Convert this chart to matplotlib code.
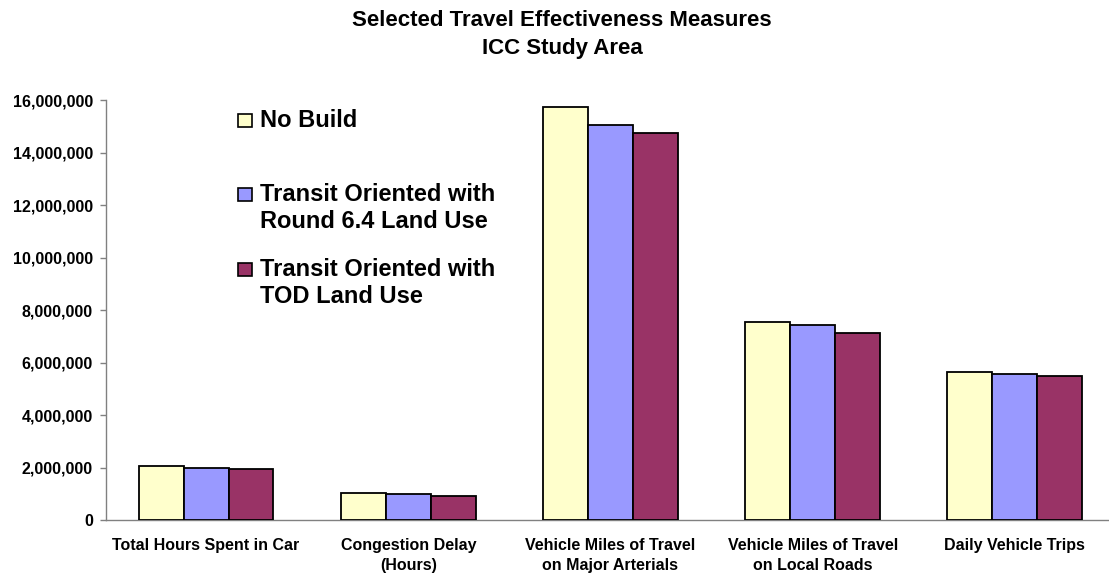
import matplotlib
matplotlib.use("Agg")
import matplotlib.pyplot as plt
import numpy as np
from matplotlib.patches import Rectangle
from matplotlib.ticker import FuncFormatter

plt.rcParams['font.family'] = ['Liberation Sans', 'DejaVu Sans']
plt.rcParams['font.weight'] = 'bold'

categories = [
    "Total Hours Spent in Car",
    "Congestion Delay\n(Hours)",
    "Vehicle Miles of Travel\non Major Arterials",
    "Vehicle Miles of Travel\non Local Roads",
    "Daily Vehicle Trips",
]
series_names = [
    "No Build",
    "Transit Oriented with\nRound 6.4 Land Use",
    "Transit Oriented with\nTOD Land Use",
]
no_build = [2070000, 1020000, 15720000, 7550000, 5640000]
round64 = [1990000, 990000, 15060000, 7420000, 5550000]
tod = [1940000, 930000, 14760000, 7140000, 5470000]
y_ticks = [0, 2000000, 4000000, 6000000, 8000000, 10000000, 12000000, 14000000, 16000000]

colors = ["#FFFFCC", "#9999FF", "#993366"]

W, H = 1109, 576
fig = plt.figure(figsize=(W / 100, H / 100), dpi=100)
ax = fig.add_axes([106 / W, 1 - 520 / H, 1 - 106 / W, (520 - 100) / H])

x = np.arange(len(categories))
bw = 2 / 9
for i, (vals, col) in enumerate(zip([no_build, round64, tod], colors)):
    ax.bar(x + (i - 1) * bw, vals, width=bw, color=col, edgecolor="black",
           linewidth=1.3, zorder=3)

ax.set_xlim(-0.495, (W - 106) / 202.2 - 0.495)
ax.set_ylim(0, 16000000)
ax.set_yticks(y_ticks)
ax.yaxis.set_major_formatter(FuncFormatter(lambda v, p: f"{int(v):,}"))
ax.set_xticks(x)
ax.set_xticklabels(categories, linespacing=1.45)

for s in ["top", "right"]:
    ax.spines[s].set_visible(False)
for s in ["left", "bottom"]:
    ax.spines[s].set_color("#808080")
    ax.spines[s].set_linewidth(1.0)

ax.tick_params(axis="y", length=4.5, width=1.0, color="#808080", pad=5,
               labelsize=11.5)
ax.tick_params(axis="x", length=0, pad=13, labelsize=11.5)
for lbl in ax.get_xticklabels() + ax.get_yticklabels():
    lbl.set_fontweight("bold")

# Title
fig.text(562 / W, 1 - 26 / H, "Selected Travel Effectiveness Measures",
         ha="center", va="baseline", fontsize=16, fontweight="bold")
fig.text(562 / W, 1 - 54 / H, "ICC Study Area",
         ha="center", va="baseline", fontsize=16, fontweight="bold")

# Legend: swatch beside the first line of each entry
line_step = 27
swatch_baselines = [127, 201, 276]
for name, col, yb in zip(series_names, colors, swatch_baselines):
    n_lines = name.count("\n") + 1
    fig.patches.append(Rectangle((238 / W, 1 - yb / H), 14 / W, 13 / H,
                                 transform=fig.transFigure, facecolor=col,
                                 edgecolor="black", linewidth=1.2))
    # multi-line text with va="baseline" anchors the last line's baseline
    fig.text(260 / W, 1 - (yb + (n_lines - 1) * line_step) / H, name,
             ha="left", va="baseline", fontsize=17, fontweight="bold",
             linespacing=1.2)

fig.savefig("out.png", dpi=100)
